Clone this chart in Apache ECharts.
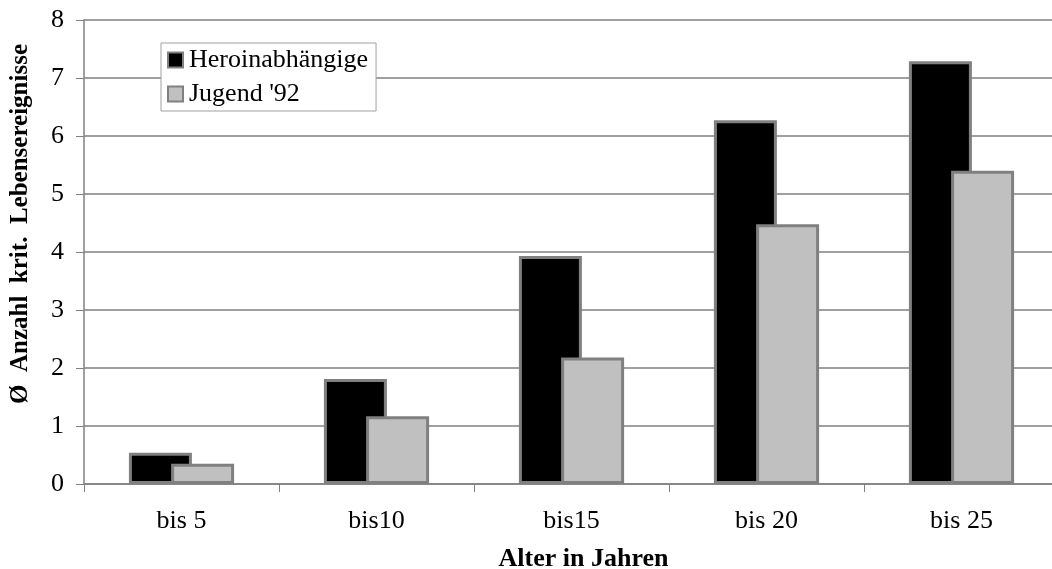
<!DOCTYPE html>
<html>
<head>
<meta charset="utf-8">
<script src="https://cdn.jsdelivr.net/npm/echarts@6/dist/echarts.min.js"></script>
<style>
html,body{margin:0;padding:0;background:#fff;overflow:hidden;}
#chart{width:1052px;height:569px;}
</style>
</head>
<body>
<div id="chart"></div>
<script>
const categories = ['bis 5', 'bis10', 'bis15', 'bis 20', 'bis 25'];
const seriesNames = ['Heroinabhängige', "Jugend '92"];
const heroin = [0.54, 1.81, 3.93, 6.27, 7.29];
const jugend = [0.35, 1.17, 2.18, 4.48, 5.40];
const yTicks = [0, 1, 2, 3, 4, 5, 6, 7, 8];
const xTitle = 'Alter in Jahren';
const yTitle = 'Ø  Anzahl  krit.  Lebensereignisse';

const FONT = '"Liberation Serif", "Times New Roman", serif';
const chart = echarts.init(document.getElementById('chart'), null, {renderer: 'canvas'});
chart.setOption({
  backgroundColor: '#fff',
  animation: false,
  textStyle: {fontFamily: FONT, color: '#000'},
  grid: {left: 84, top: 20, right: -7, bottom: 85, containLabel: false, outerBoundsMode: 'none'},
  legend: {
    orient: 'vertical',
    left: 161, top: 43,
    backgroundColor: '#fff',
    borderColor: '#a0a0a0', borderWidth: 1,
    padding: [4, 8, 4, 6],
    itemWidth: 15, itemHeight: 15, itemGap: 8,
    icon: 'rect',
    textStyle: {fontFamily: FONT, fontSize: 26, color: '#000', padding: [0, 0, 0, 1]},
    data: seriesNames
  },
  xAxis: {
    type: 'category',
    data: categories,
    axisLine: {lineStyle: {color: '#808080', width: 1.5}},
    axisTick: {show: true, length: 8, lineStyle: {color: '#808080'}},
    axisLabel: {fontFamily: FONT, fontSize: 26, color: '#000', margin: 24},
    name: xTitle,
    nameLocation: 'middle',
    nameGap: 62,
    nameTextStyle: {fontFamily: FONT, fontSize: 26, fontWeight: 'bold', color: '#000', padding: [0, 0, 0, 24]}
  },
  yAxis: {
    type: 'value',
    min: yTicks[0], max: yTicks[yTicks.length - 1], interval: 1,
    axisLine: {show: true, lineStyle: {color: '#808080', width: 1.5}},
    axisTick: {show: true, length: 8, lineStyle: {color: '#808080'}},
    splitLine: {lineStyle: {color: '#808080', width: 1.5}},
    axisLabel: {fontFamily: FONT, fontSize: 26, color: '#000', margin: 20}
  },
  graphic: [{
    type: 'text',
    x: 21, y: 224,
    rotation: Math.PI / 2,
    style: {
      text: yTitle,
      font: 'bold 25px ' + FONT,
      fill: '#000',
      align: 'center',
      verticalAlign: 'middle'
    }
  }],
  series: [
    {
      name: seriesNames[0], type: 'bar', data: heroin,
      barWidth: 63, barGap: '-33%',
      itemStyle: {color: '#000', borderColor: '#808080', borderWidth: 3}
    },
    {
      name: seriesNames[1], type: 'bar', data: jugend,
      barWidth: 63,
      itemStyle: {color: '#c0c0c0', borderColor: '#808080', borderWidth: 3}
    }
  ]
});
</script>
</body>
</html>
